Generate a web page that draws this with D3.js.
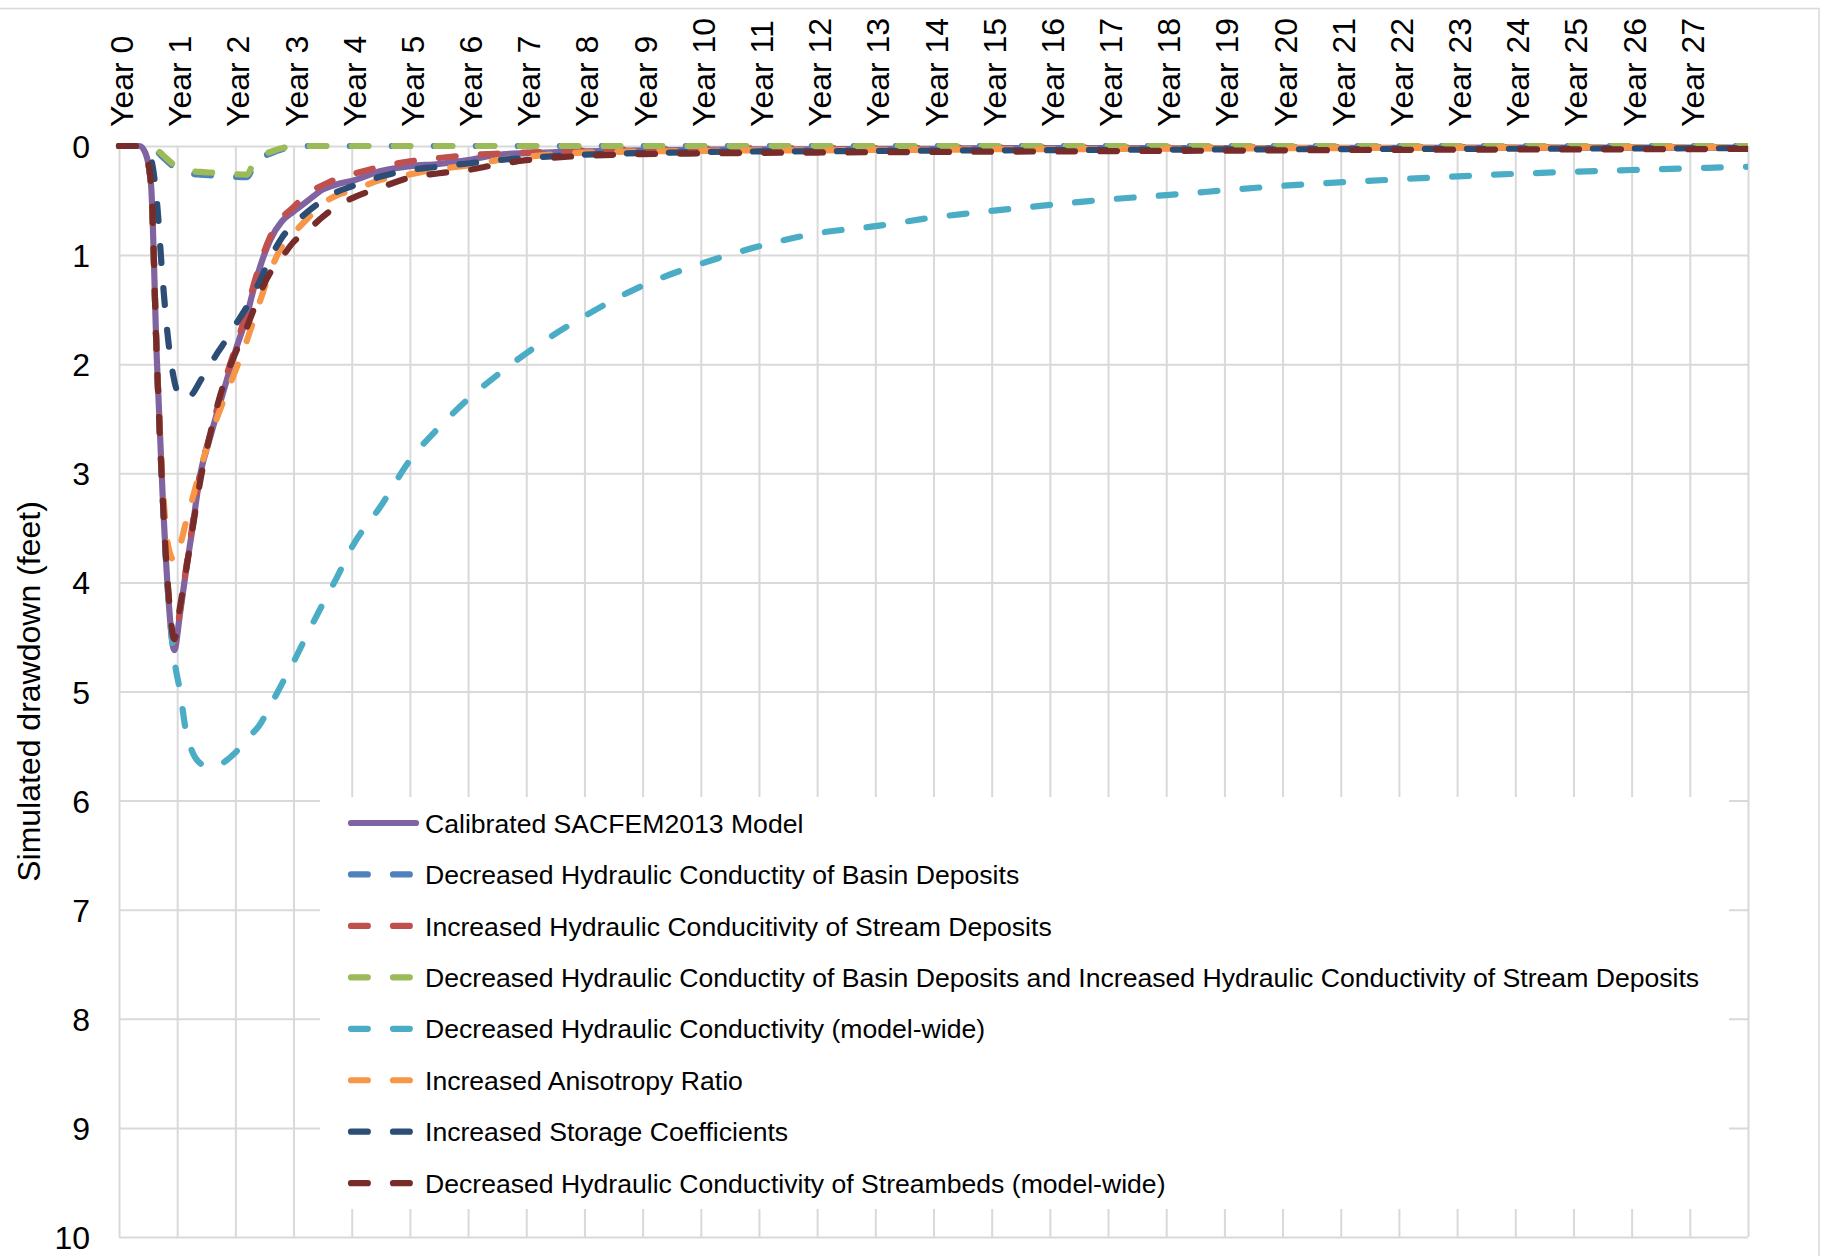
<!DOCTYPE html>
<html>
<head>
<meta charset="utf-8">
<script src="https://cdn.jsdelivr.net/npm/d3@7"></script>
<style>
  body { margin: 0; background: #fff; }
  svg { display: block; font-family: "Liberation Sans", Arial, Helvetica, sans-serif; }
</style>
</head>
<body>
<svg id="chart" width="1826" height="1256"></svg>
<script>
// Time since start of pumping (years) at which drawdown was sampled
const years = [0, 0.35, 0.45, 0.55, 0.65, 0.75, 0.85, 0.95, 1.05, 1.15, 1.25, 1.4, 1.55, 1.7, 1.85, 2.0,
  2.2, 2.3, 2.4, 2.6, 2.8, 3.0, 3.25, 3.5, 3.75, 4.0, 4.5, 5, 5.5, 6, 6.5, 7, 8, 9, 10, 11, 12, 13, 14,
  15, 16, 17, 18, 20, 22, 24, 26, 28];

// Axis tick labels
const yearLabels = d3.range(0, 28).map(i => "Year " + i);
const drawdownTicks = d3.range(0, 11);

// Simulated drawdown (feet) for each model run
const calibrated = [0, 0, 0.06, 0.35, 1.95, 3.2, 4.15, 4.62, 4.28, 3.9, 3.55, 3.0, 2.7, 2.42, 2.15, 1.88,
  1.55, 1.34, 1.15, 0.86, 0.69, 0.6, 0.5, 0.4, 0.35, 0.32, 0.23, 0.185, 0.165, 0.13, 0.08, 0.065, 0.05,
  0.04, 0.035, 0.03, 0.03, 0.025, 0.025, 0.02, 0.02, 0.02, 0.02, 0.018, 0.016, 0.015, 0.015, 0.015];

const decBasinK = [0, 0, 0, 0.02, 0.05, 0.1, 0.15, 0.195, 0.225, 0.245, 0.255, 0.262, 0.268, 0.273, 0.278,
  0.283, 0.285, 0.2, 0.12, 0.07, 0.03, 0.01, 0, 0, 0, 0, 0, 0, 0, 0, 0, 0, 0, 0, 0, 0, 0, 0, 0, 0, 0, 0, 0,
  0, 0, 0, 0, 0];

const incStreamK = [0, 0, 0.06, 0.35, 1.95, 3.2, 4.1, 4.55, 4.25, 3.88, 3.52, 2.98, 2.68, 2.38, 2.1, 1.85,
  1.5, 1.3, 1.12, 0.83, 0.66, 0.56, 0.43, 0.36, 0.3, 0.26, 0.19, 0.14, 0.11, 0.085, 0.07, 0.06, 0.04, 0.03,
  0.025, 0.02, 0.02, 0.02, 0.015, 0.015, 0.015, 0.015, 0.015, 0.012, 0.012, 0.01, 0.01, 0.01];

const decBasinIncStreamK = [0, 0, 0, 0.02, 0.035, 0.08, 0.13, 0.175, 0.205, 0.22, 0.232, 0.238, 0.243,
  0.248, 0.253, 0.258, 0.262, 0.17, 0.1, 0.055, 0.02, 0.005, 0, 0, 0, 0, 0, 0, 0, 0, 0, 0, 0, 0, 0, 0, 0,
  0, 0, 0, 0, 0, 0, 0, 0, 0, 0, 0];

const decModelK = [0, 0, 0.06, 0.35, 1.95, 3.2, 4.15, 4.7, 5.0, 5.36, 5.54, 5.66, 5.69, 5.68, 5.63, 5.56,
  5.44, 5.38, 5.32, 5.13, 4.93, 4.73, 4.46, 4.2, 3.95, 3.68, 3.3, 2.88, 2.58, 2.32, 2.1, 1.9, 1.56, 1.28,
  1.08, 0.92, 0.8, 0.735, 0.655, 0.595, 0.54, 0.49, 0.45, 0.365, 0.305, 0.255, 0.22, 0.19];

const incAnisotropy = [0, 0, 0.06, 0.35, 1.95, 3.1, 3.68, 3.8, 3.66, 3.45, 3.26, 2.96, 2.7, 2.47, 2.26,
  2.06, 1.78, 1.62, 1.46, 1.15, 0.92, 0.8, 0.66, 0.53, 0.45, 0.41, 0.31, 0.26, 0.21, 0.18, 0.13, 0.1,
  0.06, 0.05, 0.045, 0.04, 0.04, 0.035, 0.035, 0.03, 0.03, 0.028, 0.025, 0.02, 0.018, 0.015, 0.013, 0.012];

const incStorage = [0, 0, 0.04, 0.12, 0.5, 1.22, 1.8, 2.15, 2.3, 2.32, 2.28, 2.15, 2.02, 1.89, 1.77,
  1.64, 1.47, 1.37, 1.26, 1.03, 0.84, 0.72, 0.6, 0.5, 0.42, 0.37, 0.28, 0.22, 0.19, 0.16, 0.13, 0.11,
  0.08, 0.065, 0.056, 0.05, 0.048, 0.045, 0.042, 0.04, 0.038, 0.035, 0.033, 0.03, 0.027, 0.025, 0.022, 0.02];

const decStreambedK = [0, 0, 0.06, 0.35, 1.95, 3.2, 4.1, 4.52, 4.22, 3.9, 3.56, 3.06, 2.68, 2.36, 2.1,
  1.9, 1.66, 1.52, 1.38, 1.16, 1.02, 0.88, 0.77, 0.65, 0.55, 0.48, 0.38, 0.29, 0.25, 0.22, 0.17, 0.13,
  0.09, 0.075, 0.068, 0.063, 0.06, 0.057, 0.055, 0.052, 0.05, 0.047, 0.045, 0.04, 0.035, 0.032, 0.03, 0.027];

const seriesNames = [
  "Calibrated SACFEM2013 Model",
  "Decreased Hydraulic Conductity of Basin Deposits",
  "Increased Hydraulic Conducitivity of Stream Deposits",
  "Decreased Hydraulic Conductity of Basin Deposits and Increased Hydraulic Conductivity of Stream Deposits",
  "Decreased Hydraulic Conductivity (model-wide)",
  "Increased Anisotropy Ratio",
  "Increased Storage Coefficients",
  "Decreased Hydraulic Conductivity of Streambeds (model-wide)"
];
const seriesValues = [calibrated, decBasinK, incStreamK, decBasinIncStreamK, decModelK,
  incAnisotropy, incStorage, decStreambedK];
const seriesColors = ["#8064A2", "#4F81BD", "#C0504D", "#9BBB59", "#4BACC6", "#F79646", "#2C4D75", "#772C2A"];
const seriesDashed = [false, true, true, true, true, true, true, true];

// ---- layout ----
const svg = d3.select("#chart");
const W = 1826, H = 1256;
const plot = { left: 119, top: 146, right: 1748, bottom: 1237 };
const pw = plot.right - plot.left, ph = plot.bottom - plot.top;
const gridColor = "#d9d9d9";
const strokeW = 6.2;
const dash = "16.8 25.2";

svg.append("rect").attr("width", W).attr("height", H).attr("fill", "#fff");
// chart frame
svg.append("rect")
  .attr("x", -10).attr("y", 8.5).attr("width", 1829).attr("height", 1300)
  .attr("fill", "none").attr("stroke", gridColor).attr("stroke-width", 1.5);

const x = d3.scaleLinear().domain([0, 28]).range([0, pw]);
const y = d3.scaleLinear().domain([0, 10]).range([0, ph]);

const g = svg.append("g").attr("transform", `translate(${plot.left},${plot.top})`);

// vertical gridlines with rotated year labels
const xAxis = g.append("g")
  .call(d3.axisTop(x).tickValues(d3.range(0, 29)).tickSize(-ph)
    .tickFormat(d => d < yearLabels.length ? yearLabels[d] : ""));
xAxis.select(".domain").remove();
xAxis.selectAll(".tick line").attr("stroke", gridColor).attr("stroke-width", 2);
xAxis.selectAll(".tick text")
  .attr("transform", "rotate(-90)")
  .attr("x", 19).attr("y", 13.5).attr("dy", 0)
  .attr("text-anchor", "start")
  .attr("fill", "#000")
  .style("font-size", "32px")
  .style("font-family", "'Liberation Sans', Arial, sans-serif");

// horizontal gridlines with drawdown labels
const yAxis = g.append("g")
  .call(d3.axisLeft(y).tickValues(drawdownTicks).tickSize(-pw).tickPadding(29).tickFormat(d3.format("d")));
yAxis.select(".domain").remove();
yAxis.selectAll(".tick line").attr("stroke", gridColor).attr("stroke-width", 2);
yAxis.selectAll(".tick text")
  .attr("dy", "0.36em")
  .attr("fill", "#000")
  .style("font-size", "32px")
  .style("font-family", "'Liberation Sans', Arial, sans-serif");

// axis title
svg.append("text")
  .attr("transform", `translate(40,${plot.top + ph / 2}) rotate(-90)`)
  .attr("text-anchor", "middle")
  .style("font-size", "32px")
  .attr("fill", "#000")
  .text("Simulated drawdown (feet)");

// drawdown curves
g.append("clipPath").attr("id", "plotClip")
  .append("rect").attr("x", -4).attr("y", -4).attr("width", pw + 4).attr("height", ph + 8);

const line = d3.line()
  .x((d, i) => x(years[i]))
  .y(d => y(d))
  .curve(d3.curveMonotoneX);

const lines = g.append("g").attr("clip-path", "url(#plotClip)");
seriesValues.forEach((vals, k) => {
  lines.append("path")
    .datum(vals)
    .attr("d", line)
    .attr("fill", "none")
    .attr("stroke", seriesColors[k])
    .attr("stroke-width", strokeW)
    .attr("stroke-linecap", "round")
    .attr("stroke-linejoin", "round")
    .attr("stroke-dasharray", seriesDashed[k] ? dash : null);
});

// legend
const legend = svg.append("g");
legend.append("rect")
  .attr("x", 320).attr("y", 797).attr("width", 1729 - 320).attr("height", 1209 - 797)
  .attr("fill", "#fff");
const rowH = 51.45;
seriesNames.forEach((name, k) => {
  const cy = 823 + k * rowH;
  legend.append("line")
    .attr("x1", 351).attr("x2", 416).attr("y1", cy).attr("y2", cy)
    .attr("stroke", seriesColors[k])
    .attr("stroke-width", strokeW)
    .attr("stroke-linecap", "round")
    .attr("stroke-dasharray", seriesDashed[k] ? dash : null);
  legend.append("text")
    .attr("x", 425).attr("y", cy + 9.6)
    .style("font-size", "26.6px")
    .attr("fill", "#000")
    .text(name);
});
</script>
</body>
</html>
